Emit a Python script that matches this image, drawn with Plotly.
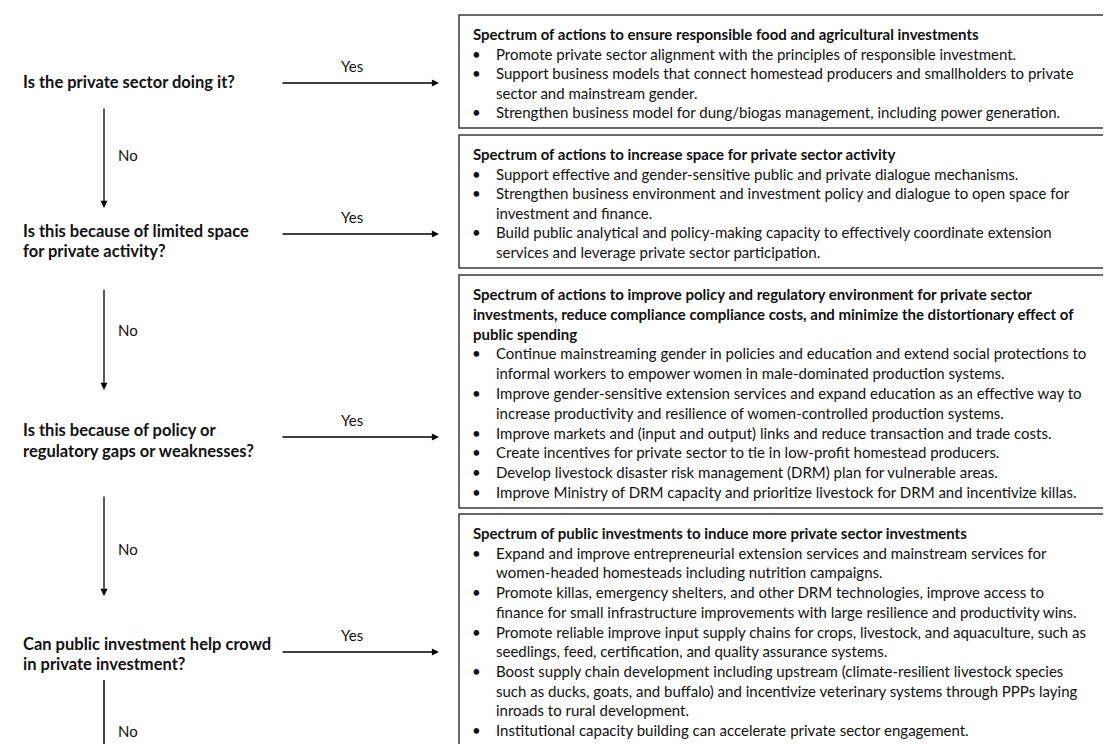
import plotly.graph_objects as go

# ---------------- content ----------------
questions = [
    ["Is the private sector doing it?"],
    ["Is this because of limited space", "for private activity?"],
    ["Is this because of policy or", "regulatory gaps or weaknesses?"],
    ["Can public investment help crowd", "in private investment?"],
]
yes_label = "Yes"
no_label = "No"

box_titles = [
    ["Spectrum of actions to ensure responsible food and agricultural investments"],
    ["Spectrum of actions to increase space for private sector activity"],
    ["Spectrum of actions to improve policy and regulatory environment for private sector",
     "investments, reduce compliance compliance costs, and minimize the distortionary effect of",
     "public spending"],
    ["Spectrum of public investments to induce more private sector investments"],
]
box_bullets = [
    [
        ["Promote private sector alignment with the principles of responsible investment."],
        ["Support business models that connect homestead producers and smallholders to private",
         "sector and mainstream gender."],
        ["Strengthen business model for dung/biogas management, including power generation."],
    ],
    [
        ["Support effective and gender-sensitive public and private dialogue mechanisms."],
        ["Strengthen business environment and investment policy and dialogue to open space for",
         "investment and finance."],
        ["Build public analytical and policy-making capacity to effectively coordinate extension",
         "services and leverage private sector participation."],
    ],
    [
        ["Continue mainstreaming gender in policies and education and extend social protections to",
         "informal workers to empower women in male-dominated production systems."],
        ["Improve gender-sensitive extension services and expand education as an effective way to",
         "increase productivity and resilience of women-controlled production systems."],
        ["Improve markets and (input and output) links and reduce transaction and trade costs."],
        ["Create incentives for private sector to tie in low-profit homestead producers."],
        ["Develop livestock disaster risk management (DRM) plan for vulnerable areas."],
        ["Improve Ministry of DRM capacity and prioritize livestock for DRM and incentivize killas."],
    ],
    [
        ["Expand and improve entrepreneurial extension services and mainstream services for",
         "women-headed homesteads including nutrition campaigns."],
        ["Promote killas, emergency shelters, and other DRM technologies, improve access to",
         "finance for small infrastructure improvements with large resilience and productivity wins."],
        ["Promote reliable improve input supply chains for crops, livestock, and aquaculture, such as",
         "seedlings, feed, certification, and quality assurance systems."],
        ["Boost supply chain development including upstream (climate-resilient livestock species",
         "such as ducks, goats, and buffalo) and incentivize veterinary systems through PPPs laying",
         "inroads to rural development."],
        ["Institutional capacity building can accelerate private sector engagement."],
    ],
]

# ---------------- layout geometry ----------------
W, H = 1111, 744
FONT = "Lato, Carlito, Calibri, sans-serif"
FS = 15
QFS = 16.5
LFS = 15
INK = "#111111"
BORDER = "#3a3a3a"

box_x0, box_x1 = 451, 1109
box_tops = [7, 127, 267, 506]
box_bottoms = [120, 260, 500, 738]
title_x, bullet_x, text_x = 463, 468, 486

q_x = 13
q_line_y = [[74], [223, 243], [422, 443], [636, 656]]
arrow_y = [75, 226, 429, 644]
arrow_x0, arrow_x1 = 273, 431
yes_x = 344
vert_x = 96
vert_segments = [(99, 200), (280, 382), (487, 588)]
no_y = [147, 322, 541, 723]
no_x = 108

fig = go.Figure()
shapes = []
annotations = []

# boxes and their text
for i in range(len(box_titles)):
    top, bot = box_tops[i], box_bottoms[i]
    shapes.append(dict(type="rect", xref="x", yref="y", x0=box_x0, x1=box_x1, y0=top, y1=bot,
                       line=dict(color=BORDER, width=1.5), fillcolor="rgba(0,0,0,0)"))
    lines = [("title", t) for t in box_titles[i]]
    for b in box_bullets[i]:
        for j, t in enumerate(b):
            lines.append(("bullet" if j == 0 else "cont", t))
    n = len(lines)
    first, last = top + 19, bot - 16
    step = (last - first) / (n - 1)
    for k, (kind, t) in enumerate(lines):
        y = first + k * step
        if kind == "title":
            annotations.append(dict(x=title_x, y=y, xref="x", yref="y", text="<b>" + t + "</b>",
                                    showarrow=False, xanchor="left", yanchor="middle",
                                    font=dict(family=FONT, size=FS, color=INK)))
        else:
            if kind == "bullet":
                annotations.append(dict(x=bullet_x, y=y, xref="x", yref="y", text="•",
                                        showarrow=False, xanchor="center", yanchor="middle",
                                        font=dict(family=FONT, size=FS, color=INK)))
            annotations.append(dict(x=text_x, y=y, xref="x", yref="y", text=t,
                                    showarrow=False, xanchor="left", yanchor="middle",
                                    font=dict(family=FONT, size=FS, color=INK)))

# partial next box at the bottom edge
shapes.append(dict(type="rect", xref="x", yref="y", x0=box_x0, x1=box_x1, y0=741, y1=800,
                   line=dict(color=BORDER, width=1.5), fillcolor="rgba(0,0,0,0)"))

# questions
for i, q in enumerate(questions):
    for t, y in zip(q, q_line_y[i]):
        annotations.append(dict(x=q_x, y=y, xref="x", yref="y", text="<b>" + t + "</b>",
                                showarrow=False, xanchor="left", yanchor="middle",
                                font=dict(family=FONT, size=QFS, color=INK)))
    # Yes arrow
    annotations.append(dict(x=arrow_x1, y=arrow_y[i], ax=arrow_x0, ay=arrow_y[i],
                            xref="x", yref="y", axref="x", ayref="y", text="",
                            showarrow=True, arrowhead=2, arrowsize=1.1, arrowwidth=1.3,
                            arrowcolor="#000000"))
    annotations.append(dict(x=yes_x, y=arrow_y[i] - 17, xref="x", yref="y", text=yes_label,
                            showarrow=False, xanchor="center", yanchor="middle",
                            font=dict(family=FONT, size=LFS, color=INK)))
    # No label
    annotations.append(dict(x=no_x, y=no_y[i], xref="x", yref="y", text=no_label,
                            showarrow=False, xanchor="left", yanchor="middle",
                            font=dict(family=FONT, size=LFS, color=INK)))

# vertical "No" arrows
for (y0, y1) in vert_segments:
    annotations.append(dict(x=vert_x, y=y1, ax=vert_x, ay=y0,
                            xref="x", yref="y", axref="x", ayref="y", text="",
                            showarrow=True, arrowhead=2, arrowsize=1.1, arrowwidth=1.3,
                            arrowcolor="#000000"))
# last segment continues off the page
shapes.append(dict(type="line", xref="x", yref="y", x0=vert_x, x1=vert_x, y0=672, y1=760,
                   line=dict(color="#000000", width=1.5)))

fig.update_layout(
    width=W, height=H,
    margin=dict(l=0, r=0, t=0, b=0),
    paper_bgcolor="white", plot_bgcolor="white",
    xaxis=dict(range=[0, W], visible=False, fixedrange=True),
    yaxis=dict(range=[H, 0], visible=False, fixedrange=True),
    shapes=shapes, annotations=annotations, showlegend=False,
)

fig.write_html("out.html")
